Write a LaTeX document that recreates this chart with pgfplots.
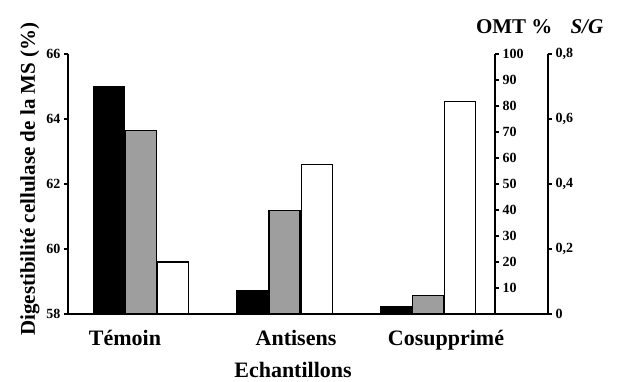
\documentclass[border=0pt]{standalone}
\usepackage{pgfplots}
\pgfplotsset{compat=1.18}
\usepackage{fontspec}
\setmainfont{Liberation Serif}
\begin{document}
\begin{tikzpicture}
\pgfplotsset{
  common/.style={
    scale only axis, height=260pt,
    xmin=-0.507,
    ybar, bar width=31pt,
    axis line style={line width=1.4pt},
    ytick style={line width=1.2pt, black},
    xtick style={draw=none},
    major tick length=4pt,
    tick align=outside,
    yticklabel style={font=\bfseries\fontsize{14}{16}\selectfont},
    /pgf/number format/assume math mode=true,
    clip=true,
  },
}
% left axis: digestibility
\begin{axis}[common, width=427pt, xmax=2.465, ymin=58, ymax=66,
  axis x line*=bottom, axis y line*=left,
  ytick={58,60,62,64,66},
  xtick={-0.11,1.08,2.124},
  xticklabels={Témoin,Antisens,Cosupprimé},
  xticklabel style={font=\bfseries\fontsize{22}{26}\selectfont, anchor=base, yshift=-28pt},
  xlabel={Echantillons},
  xlabel style={font=\bfseries\fontsize{22}{26}\selectfont, at={(axis description cs:0.527,-0.244)}, anchor=base},
  ylabel={Digestibilité cellulase de la MS (\%)},
  ylabel style={font=\bfseries\fontsize{21}{25}\selectfont, at={(axis description cs:-0.0773,0.519)}, anchor=base},
]
\addplot[fill=black, draw=black, line width=1.1pt, bar shift=-32pt] coordinates {(0,65.0) (1,58.72) (2,58.22)};
\end{axis}
% middle axis: OMT %
\begin{axis}[common, width=427pt, xmax=2.465, ymin=0, ymax=100,
  axis x line=none, axis y line*=right,
  ytick={10,20,...,100},
  xtick=\empty,
  title={OMT \%},
  title style={font=\bfseries\fontsize{21}{25}\selectfont, at={(axis description cs:1.045,1.054)}, anchor=base},
]
\addplot[fill=black!38, draw=black, line width=1.1pt, bar shift=0pt] coordinates {(0,70.5) (1,39.8) (2,7.0)};
\end{axis}
% right axis: S/G
\begin{axis}[common, width=480pt, xmax=2.833, ymin=0, ymax=0.8,
  axis x line*=bottom, axis y line*=right,
  ytick={0,0.2,0.4,0.6,0.8},
  yticklabel style={/pgf/number format/.cd, use comma, fixed, precision=1},
  xtick=\empty,
  title={\textit{S/G}},
  title style={font=\bfseries\fontsize{21}{25}\selectfont, at={(axis description cs:1.081,1.054)}, anchor=base},
]
\addplot[fill=white, draw=black, line width=1.1pt, bar shift=32pt] coordinates {(0,0.16) (1,0.46) (2,0.653)};
\end{axis}
\pgfresetboundingbox
\useasboundingbox (-68pt,-68pt) rectangle (557pt,314pt);
\end{tikzpicture}
\end{document}
